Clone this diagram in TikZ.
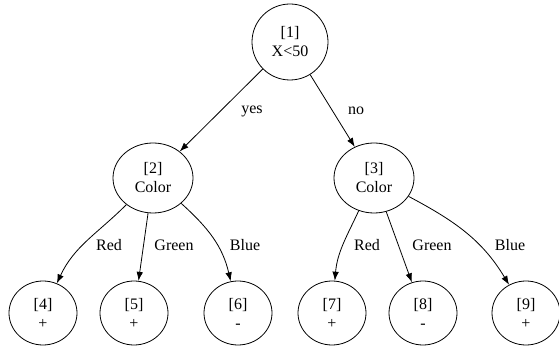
\documentclass[tikz,border=0pt]{standalone}
\usepackage{fontspec}
\setmainfont{Liberation Serif}
\usetikzlibrary{shapes.geometric,arrows.meta}

\begin{document}
\begin{tikzpicture}[
        x=1pt, y=-1pt,
        every node/.style = {font=\fontsize{16}{19}\selectfont},
        test/.style = {draw, ellipse, line width=0.8pt, align=center, inner sep=0pt,
                       minimum width=80pt, minimum height=70pt},
        leaf/.style = {test, minimum width=68pt, minimum height=64pt},
        branch/.style = {->, draw, line width=0.8pt},
        answer/.style = {inner sep=0pt},
        >={Latex[length=9pt,width=6.5pt]}]
    \useasboundingbox (0,0) rectangle (559,347);
    % decision nodes
    \node[test, minimum width=76pt, minimum height=76pt] (root) at (290,42) {[1]\\X<50};
    \node[test] (left) at (153,178) {[2]\\Color};
    \node[test] (right) at (374,178) {[3]\\Color};
    % leaves
    \node[leaf] (l4) at (43,313) {[4]\\+};
    \node[leaf] (l5) at (134,313) {[5]\\+};
    \node[leaf] (l6) at (238,313) {[6]\\-};
    \node[leaf] (l7) at (332,313) {[7]\\+};
    \node[leaf] (l8) at (423,313) {[8]\\-};
    \node[leaf] (l9) at (526,313) {[9]\\+};
    % branches
    \draw[branch] (root) -- (left);
    \draw[branch] (root) -- (right);
    \draw[branch] (left) to[out=-135, in=65] (l4);
    \draw[branch] (left) -- (l5);
    \draw[branch] (left) to[out=-42, in=103] (l6);
    \draw[branch] (right) to[out=-115, in=85] (l7);
    \draw[branch] (right) -- (l8);
    \draw[branch] (right) to[out=-28, in=121] (l9);
    % branch labels
    \node[answer] (yes) at (252,111) {yes};
    \node[answer] (no) at (356,111) {no};
    \node[answer] (red2) at (109,245) {Red};
    \node[answer] (green2) at (174,245) {Green};
    \node[answer] (blue2) at (245,245) {Blue};
    \node[answer] (red3) at (367,245) {Red};
    \node[answer] (green3) at (432,245) {Green};
    \node[answer] (blue3) at (510,245) {Blue};
\end{tikzpicture}
\end{document}
